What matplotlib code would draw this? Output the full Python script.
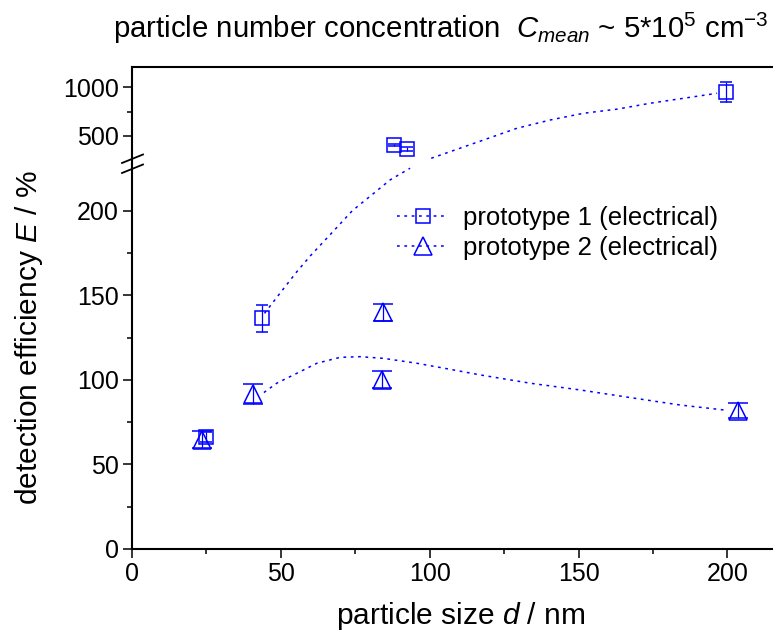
import matplotlib
matplotlib.use('Agg')
import matplotlib.pyplot as plt
from matplotlib.lines import Line2D

plt.rcParams['font.family'] = ['Liberation Sans', 'DejaVu Sans']
plt.rcParams['mathtext.fontset'] = 'custom'
plt.rcParams['mathtext.rm'] = 'Liberation Sans'
plt.rcParams['mathtext.it'] = 'Liberation Sans:italic'

# prototype 1 (squares)
p1_d = [25, 43.5, 88, 92.5, 199.5]
p1_E = [66, 136.5, 408, 367, 949]
p1_err = [3, 8, 8, 20, 100]

# prototype 2 (triangles)
p2_d = [23.5, 40.6, 83.8, 84.4, 203.4]
p2_E = [64.5, 91.5, 100, 140, 81.7]
p2_err = [5, 6, 5, 5, 4.5]

# fit curves (prototype 1 drawn across the axis break)
fit1_low_d = [44.5, 49.7, 55.4, 60, 67.7, 74, 81, 86.7, 93.4]
fit1_low_E = [139.3, 151.2, 164, 173.5, 188, 200, 210, 218.2, 225.1]
fit1_up_d = [100.5, 106.9, 118.1, 129.3, 140.5, 151.7, 162.9, 174.1, 185.3, 196.5]
fit1_up_E = [271, 339, 459, 579, 664, 733, 775, 836, 887, 938]

fit2_d = [44.3, 48.6, 55.4, 62.1, 69.9, 76.6, 84.5, 95.7, 106.3, 117, 133.8, 150.6, 167.4, 184.2, 198.8]
fit2_E = [92.5, 98, 103.9, 109.8, 113.3, 113.7, 112.7, 109.8, 106.4, 102.9, 98, 94, 89.5, 85.1, 82.2]

labels = ['prototype 1 (electrical)', 'prototype 2 (electrical)']

blue = '#0000ff'
dotted = (0, (1.8, 3))
y_break = 227.6

W, H = 773, 640
fig = plt.figure(figsize=(W / 100, H / 100), dpi=100)


def box(l, t, r, b):
    return [l / W, 1 - b / H, (r - l) / W, (b - t) / H]


def part(d, e, err, upper):
    idx = [i for i, v in enumerate(e) if (v > y_break) == upper]
    return [d[i] for i in idx], [e[i] for i in idx], [err[i] for i in idx]


ax_lo = fig.add_axes(box(132, 164, 790, 549))
ax_hi = fig.add_axes(box(132, 66.5, 790, 164), sharex=ax_lo)

sq = dict(fmt='s', ms=9.5, mfc='none', mec=blue, mew=1.1, ecolor=blue,
          elinewidth=0.9, capsize=4.5, capthick=0.9)
tri = dict(fmt='^', ms=13.5, mfc='none', mec=blue, mew=1.1, ecolor=blue,
           elinewidth=0.9, capsize=7, capthick=0.9)

ax_lo.plot(fit1_low_d, fit1_low_E, color=blue, lw=1.1, ls=dotted)
ax_hi.plot(fit1_up_d, fit1_up_E, color=blue, lw=1.1, ls=dotted)
ax_lo.plot(fit2_d, fit2_E, color=blue, lw=1.1, ls=dotted)

for ax, upper in ((ax_lo, False), (ax_hi, True)):
    x, y, e = part(p1_d, p1_E, p1_err, upper)
    if x:
        ax.errorbar(x, y, yerr=e, **sq)
    x, y, e = part(p2_d, p2_E, p2_err, upper)
    if x:
        ax.errorbar(x, y, yerr=e, **tri)
    ax.spines['right'].set_visible(False)
    for s in ax.spines.values():
        s.set_linewidth(1.5)
    ax.tick_params(which='major', direction='out', length=6.5, width=1.1,
                   labelsize=18, pad=3)
    ax.tick_params(which='minor', direction='out', length=3.6, width=1.1)

ax_lo.spines['top'].set_visible(False)
ax_hi.spines['bottom'].set_visible(False)

ax_lo.set_xlim(0, 221)
ax_lo.set_xticks([0, 50, 100, 150, 200])
ax_lo.set_xticks([25, 75, 125, 175], minor=True)
ax_lo.set_ylim(0, y_break)
ax_lo.set_yticks([0, 50, 100, 150, 200])
ax_lo.set_yticks([25, 75, 125, 175], minor=True)

ax_hi.set_ylim(212, 1213)
ax_hi.set_yticks([500, 1000])
ax_hi.set_yticks([750], minor=True)
ax_hi.tick_params(axis='x', which='both', bottom=False, labelbottom=False)

# break marks on the left axis
for y0 in (163, 173):
    fig.add_artist(Line2D([122 / W, 143 / W], [1 - y0 / H, 1 - (y0 - 8.5) / H],
                          color='black', lw=1.3, transform=fig.transFigure))

handles = [Line2D([], [], color=blue, lw=1.1, ls=dotted, marker='s', ms=9.5,
                  mfc='none', mec=blue, mew=1.1),
           Line2D([], [], color=blue, lw=1.1, ls=dotted, marker='^', ms=13.5,
                  mfc='none', mec=blue, mew=1.1)]
fig.legend(handles, labels, loc='upper left', bbox_to_anchor=(397 / W, 1 - 206 / H),
           frameon=False, borderpad=0, borderaxespad=0, handlelength=2.0,
           handletextpad=0.55, labelspacing=0.25, fontsize=18.5)

fig.text(113 / W, 1 - 38 / H,
         r'particle number concentration  $C_{mean}$ ~ 5*10$^5$ cm$^{-3}$',
         fontsize=21.2, ha='left', va='baseline')
fig.text(461 / W, 16 / H, r'particle size $d$ / nm', fontsize=21.5,
         ha='center', va='baseline')
fig.text(29 / W, 1 - 338 / H, r'detection efficiency $E$ / %', fontsize=21.5,
         rotation=90, ha='center', va='center')

fig.savefig('out.png', dpi=100)
